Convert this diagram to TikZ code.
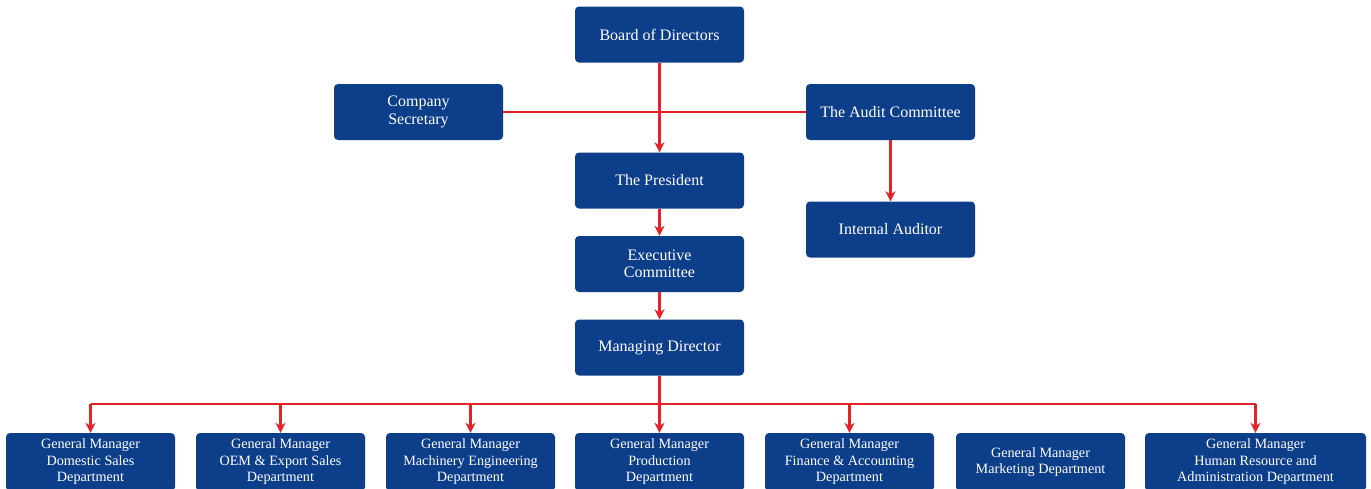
\documentclass[tikz,border=0pt]{standalone}
\usepackage{fontspec}
\setmainfont{Liberation Serif}
\usetikzlibrary{arrows.meta}
\definecolor{boxblue}{RGB}{13,62,138}
\definecolor{linkred}{RGB}{228,34,40}

\begin{document}
\begin{tikzpicture}[x=1pt,y=-1pt,
    box/.style={rectangle,rounded corners=4pt,fill=boxblue,text=white,align=center,inner sep=0pt,minimum width=169pt,minimum height=56pt,font=\fontsize{16}{17.5}\selectfont},
    gm/.style={box,minimum height=58pt,font=\fontsize{14.2}{16.5}\selectfont},
    link/.style={draw=linkred,line width=2.4pt},
    arr/.style={link,-{Stealth[length=10pt,width=10pt]}}]
                \useasboundingbox (0,0) rectangle (1371,488);

                \node[box] (board) at (659.5,34.5) {Board of Directors};
                \node[box] (sec) at (418.5,112) {Company\\Secretary};
                \node[box] (audit) at (890.5,112) {The Audit Committee};
                \node[box] (pres) at (659.5,180.5) {The President};
                \node[box] (intaud) at (890.5,229.5) {Internal Auditor};
                \node[box] (exec) at (659.5,264) {Executive\\Committee};
                \node[box] (md) at (659.5,347.5) {Managing Director};

                \node[gm] (dom) at (90.5,462) {General Manager\\Domestic Sales\\Department};
                \node[gm] (oem) at (280.5,462) {General Manager\\OEM \& Export Sales\\Department};
                \node[gm] (mach) at (470.5,462) {General Manager\\Machinery Engineering\\Department};
                \node[gm] (prod) at (659.5,462) {General Manager\\Production\\Department};
                \node[gm] (fin) at (849.5,462) {General Manager\\Finance \& Accounting\\Department};
                \node[gm] (mkt) at (1040.5,462) {General Manager\\Marketing Department};
                \node[gm,minimum width=221pt] (hr) at (1255.5,462) {General Manager\\Human Resource and\\Administration Department};
                \coordinate (bus) at (0,404);

                \draw[link] (sec.east) -- (audit.west);
                \draw[arr] (board) -- (pres);
                \draw[arr] (audit) -- (intaud);
                \draw[arr] (pres) -- (exec);
                \draw[arr] (exec) -- (md);
                \draw[arr] (md) -- (prod);
                \draw[link] (dom.north |- bus) -- (hr.north |- bus);
                \foreach \d in {dom,oem,mach,fin,hr} \draw[arr] (\d.north |- bus) -- (\d.north);

            \end{tikzpicture}
\end{document}
